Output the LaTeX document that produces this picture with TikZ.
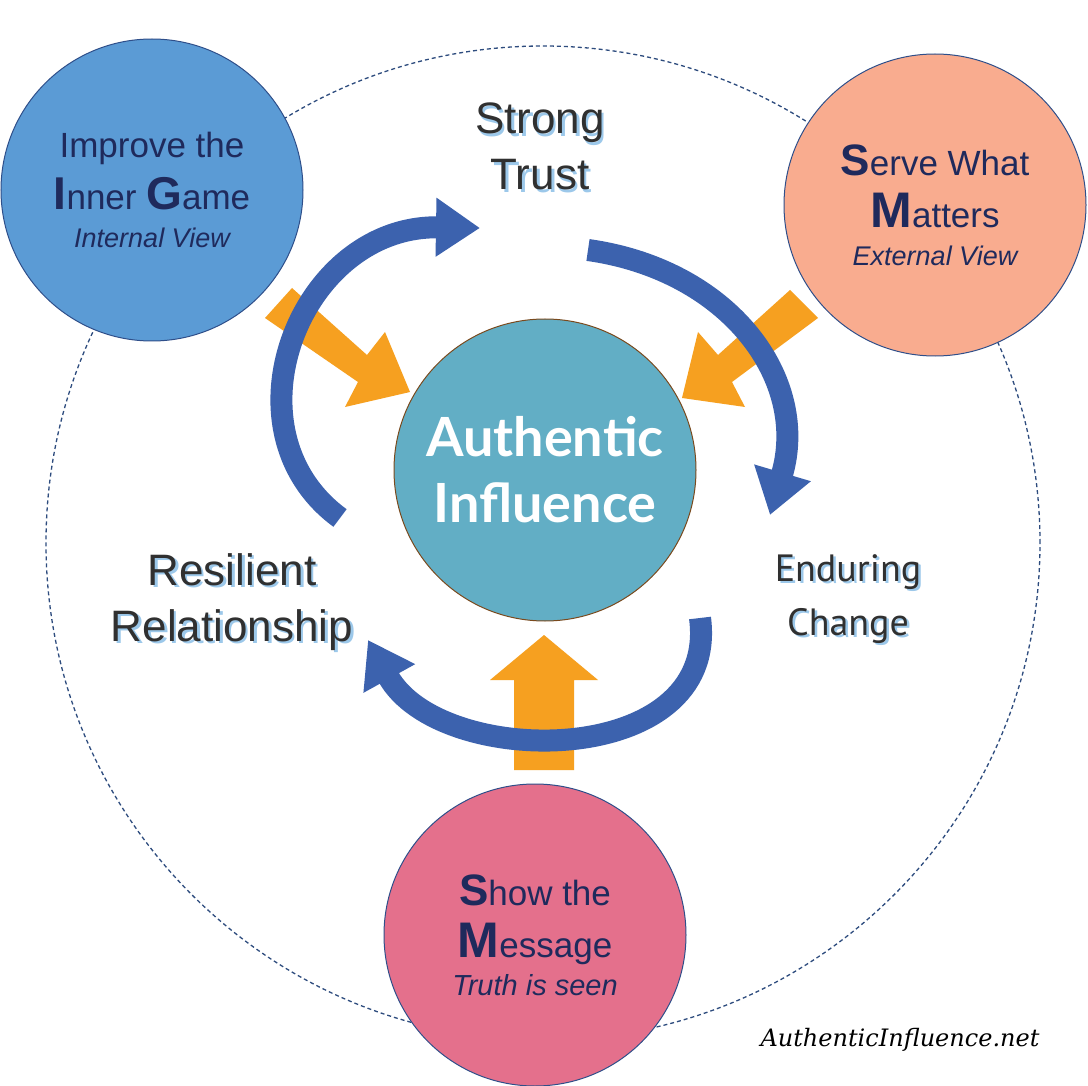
\documentclass[tikz,border=0pt]{standalone}
\usepackage{fontspec}
\setmainfont{Liberation Sans}
\newfontfamily\titlefont{Lato}
\newfontfamily\narrowfont{PT Sans}
\newfontfamily\handfont{DejaVu Serif}
\usetikzlibrary{arrows.meta}
\definecolor{navy}{HTML}{1F2A5C}
\definecolor{tlblue}{HTML}{5B9BD5}
\definecolor{tlborder}{HTML}{2F4F8A}
\definecolor{salmon}{HTML}{F9AC8F}
\definecolor{pinkc}{HTML}{E4708C}
\definecolor{teal}{HTML}{62AEC5}
\definecolor{brownb}{HTML}{7A4A1E}
\definecolor{orangea}{HTML}{F6A020}
\definecolor{bluea}{HTML}{3C62AE}
\definecolor{shadowb}{HTML}{9CC8EA}
\definecolor{textg}{HTML}{303030}
\definecolor{dashc}{HTML}{2E4C7E}
\tikzset{
 bigc/.style={circle,draw=tlborder,line width=1pt,minimum size=302pt,inner sep=0pt,align=center,text=navy,font=\fontsize{35}{52}\selectfont},
 bluearrow/.style={line width=22pt,bluea,-{Triangle[width=56pt,length=44pt]}},
 lbl/.style={align=center,text=textg,font=\fontsize{44}{56}\selectfont},
}
\newcommand{\sh}[1]{\makebox[0pt][l]{\hspace{2.5pt}\raisebox{-2.5pt}{\textcolor{shadowb}{#1}}}#1}
\newcommand{\bigL}[2]{{\fontsize{#1}{#1}\selectfont\bfseries #2}}
\begin{document}
\begin{tikzpicture}[x=1pt,y=-1pt]
\useasboundingbox (0,0) rectangle (1088,1086);
\fill[white] (0,0) rectangle (1088,1086);
\node[circle,draw=dashc,dash pattern=on 4pt off 3pt,line width=1.3pt,minimum size=994pt,inner sep=0pt] (outer) at (543,543) {};
% orange arrows
\fill[orangea] (265,318) -- (292,288) -- (367,355) -- (385,332) -- (410,392) -- (345,407) -- (358,382) -- cycle;
\fill[orangea] (818,318) -- (790,290) -- (718,355) -- (698,332) -- (682,398) -- (745,407) -- (732,382) -- cycle;
\fill[orangea] (514,770) -- (574,770) -- (574,680) -- (598,680) -- (544,635) -- (490,680) -- (514,680) -- cycle;
% circles
\node[bigc,fill=tlblue] (tl) at (152,190) {Improve the\\[0pt]\bigL{46}{I}nner \bigL{46}{G}ame\\[-14pt]{\itshape\fontsize{27}{30}\selectfont Internal View}};
\node[bigc,fill=salmon] (tr) at (935,205) {\bigL{44}{S}erve What\\[0pt]\bigL{50}{M}atters\\[-14pt]{\itshape\fontsize{27}{30}\selectfont External View}};
\node[bigc,fill=pinkc] (bt) at (535,935) {\bigL{44}{S}how the\\[0pt]\bigL{50}{M}essage\\[-14pt]{\itshape\fontsize{29}{30}\selectfont Truth is seen}};
\node[bigc,fill=teal,draw=brownb,text=white,font=\titlefont\bfseries\fontsize{54}{66}\selectfont] (ctr) at (545,470) {Authentic\\Influence};
% blue arrows
\coordinate (a1s) at (340,518); \coordinate (a1e) at (480,228);
\coordinate (a2s) at (588,250); \coordinate (a2e) at (770,515);
\coordinate (a3s) at (700,618); \coordinate (a3e) at (368,640);
\draw[bluearrow] (a1s) .. controls (220,430) and (300,225) .. (a1e);
\draw[bluearrow] (a2s) .. controls (730,270) and (810,380) .. (a2e);
\draw[bluearrow] (a3s) .. controls (720,770) and (440,770) .. (a3e);
% labels
\node[lbl] (st) at (540,148) {\sh{Strong}\\\sh{Trust}};
\node[lbl] (rr) at (232,603) {\sh{Resilient}\\\sh{Relationship}};
\node[lbl,font=\narrowfont\fontsize{38}{54}\selectfont] (ec) at (848,600) {\sh{Enduring}\\\sh{Change}};
\node[font=\handfont\itshape\fontsize{24}{28}\selectfont,text=black] (web) at (900,1040) {AuthenticInfluence.net};
\end{tikzpicture}
\end{document}
